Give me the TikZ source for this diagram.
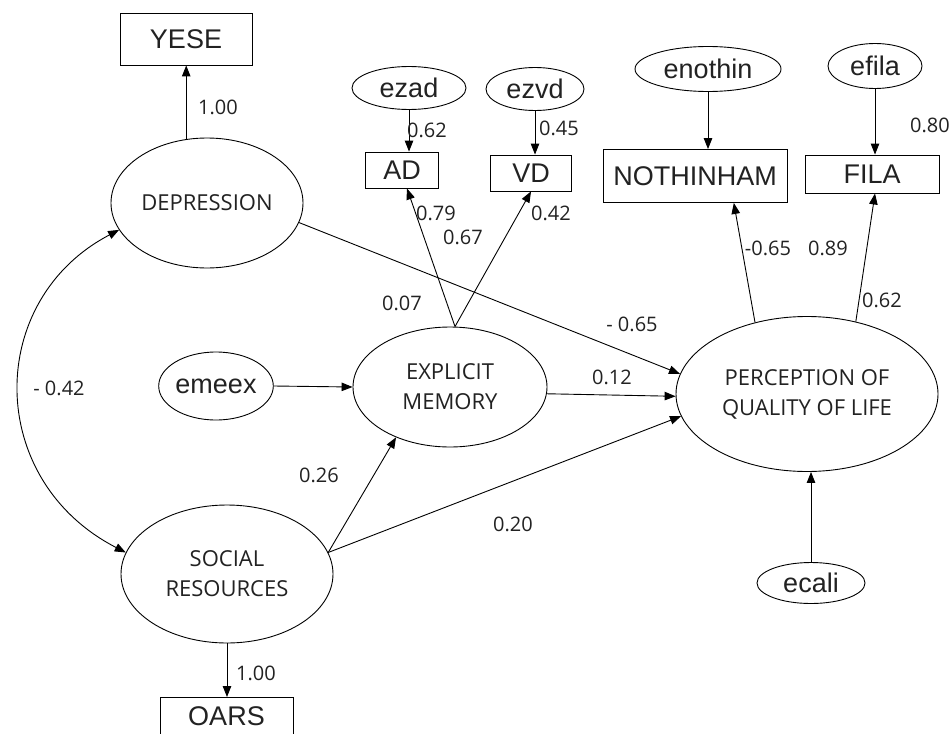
\documentclass[tikz,border=0pt]{standalone}
\usepackage{fontspec}
\setmainfont{Open Sans}
\newfontfamily\arialfont{Liberation Sans}
\usetikzlibrary{shapes.geometric,arrows.meta,calc}
\definecolor{txt}{HTML}{222222}
\begin{document}
\begin{tikzpicture}[x=1pt,y=-1pt,
  lat/.style={ellipse,draw,line width=0.9pt,inner sep=0pt,align=center,text=txt,
              font=\fontsize{22}{30}\selectfont},
  err/.style={ellipse,draw,line width=0.9pt,inner sep=0pt,text=txt,
              font=\arialfont\fontsize{27}{30}\selectfont},
  obs/.style={rectangle,draw,line width=0.9pt,inner sep=0pt,text=txt,
              font=\arialfont\fontsize{27}{30}\selectfont},
  num/.style={inner sep=0pt,text=txt,font=\fontsize{20}{24}\selectfont},
  tip/.tip={Triangle[length=11pt,width=8.5pt]},
  arr/.style={line width=0.9pt,-tip},
  darr/.style={line width=0.9pt,tip-tip},
]
\fill[white] (0,0) rectangle (952,733);
\useasboundingbox (0,0) rectangle (952,733);
\clip (0,0) rectangle (952,733);

% observed variables
\node[obs, minimum width=132pt, minimum height=52pt] (yese) at (186,39) {YESE};
\node[obs, minimum width=73pt, minimum height=36pt] (ad) at (402,170) {AD};
\node[obs, minimum width=81pt, minimum height=36pt] (vd) at (531,173) {VD};
\node[obs, minimum width=184pt, minimum height=53pt] (noth) at (695,176) {NOTHINHAM};
\node[obs, minimum width=134pt, minimum height=38pt] (fila) at (872,174) {FILA};
\node[obs, minimum width=133pt, minimum height=38pt, anchor=north] (oars) at (226.5,697) {OARS};

% error terms
\node[err, minimum width=114pt, minimum height=43pt] (ezad) at (409,88) {ezad};
\node[err, minimum width=98pt, minimum height=43pt] (ezvd) at (535,89) {ezvd};
\node[err, minimum width=146pt, minimum height=45pt] (enothin) at (708,69) {enothin};
\node[err, minimum width=94pt, minimum height=45pt] (efila) at (875,66) {efila};
\node[err, minimum width=106pt, minimum height=68pt] (emeex) at (216,386) {emeex};
\node[err, minimum width=108pt, minimum height=41pt] (ecali) at (811,583) {ecali};

% latent variables
\node[lat, minimum width=192pt, minimum height=130pt] (dep) at (207,203) {DEPRESSION};
\node[lat, minimum width=194pt, minimum height=120pt] (exp) at (450,387) {EXPLICIT\\MEMORY};
\node[lat, minimum width=262pt, minimum height=155pt] (per) at (807,394) {PERCEPTION OF\\QUALITY OF LIFE};
\node[lat, minimum width=212pt, minimum height=138pt] (soc) at (227,574) {SOCIAL\\RESOURCES};

% connectors
\draw[arr] (dep.108) -- (dep.108 |- yese.south);
\draw[arr] (ezad.south) -- (ezad.south |- ad.north);
\draw[arr] (ezvd.south) -- (ezvd.south |- vd.north);
\draw[arr] (enothin.south) -- (enothin.south |- noth.north);
\draw[arr] (efila.south) -- (efila.south |- fila.north);
\draw[arr] ([xshift=5pt]exp.north) -- ([xshift=5pt]ad.south);
\draw[arr] ([xshift=5pt]exp.north) -- (vd.south);
\draw[arr] (per.126) -- ($(noth.south west)!0.71!(noth.south east)$);
\draw[arr] (per.56) -- ([xshift=3pt]fila.south);
\draw[arr] (dep.-12) -- (per.171);
\draw[arr] (emeex.east) -- (exp.west);
\draw[arr] (exp.-4) -- (per.181);
\draw[arr] (soc.12) -- (per.190);
\draw[arr] (soc.12) -- (exp.223);
\draw[arr] (ecali.north) -- (ecali.north |- per.south);
\draw[arr] (soc.south) -- (soc.south |- oars.north);
\draw[darr] (dep.197) .. controls (-15,300) and (-15,480) .. (soc.168);

% coefficients
\node[num] (l1) at (218,107) {1.00};
\node[num] (l2) at (427,130) {0.62};
\node[num] (l3) at (559,128) {0.45};
\node[num] (l4) at (436,213) {0.79};
\node[num] (l5) at (463,237) {0.67};
\node[num] (l6) at (551,213) {0.42};
\node[num] (l7) at (402,303) {0.07};
\node[num] (l8) at (768,248) {-0.65};
\node[num] (l9) at (828,248) {0.89};
\node[num] (l10) at (882,300) {0.62};
\node[num] (l11) at (930,125) {0.80};
\node[num] (l12) at (632,324) {- 0.65};
\node[num] (l13) at (612,377) {0.12};
\node[num] (l14) at (59,388) {- 0.42};
\node[num] (l15) at (319,475) {0.26};
\node[num] (l16) at (513,524) {0.20};
\node[num] (l17) at (256,673) {1.00};
\end{tikzpicture}
\end{document}
